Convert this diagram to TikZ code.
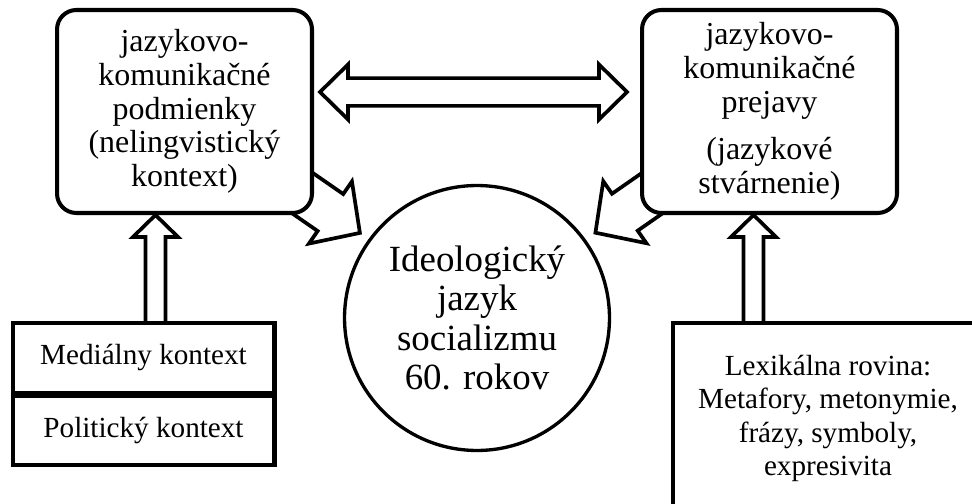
\documentclass[tikz,border=0pt]{standalone}
\usepackage{fontspec}
\setmainfont{Liberation Serif}
\usetikzlibrary{calc,backgrounds}

\tikzset{
  box/.style={draw, line width=2.3pt, fill=white, rounded corners=11pt,
    align=center, inner sep=0pt, minimum width=5.1cm, minimum height=4.06cm,
    font=\fontsize{18.2}{19.2}\selectfont},
  ctxbox/.style={draw, line width=2.3pt, fill=white, align=center,
    inner sep=0pt, font=\fontsize{16.6}{18.9}\selectfont},
  ideo/.style={draw, circle, line width=1.9pt, fill=white, align=center,
    inner sep=0pt, minimum size=5.3cm, font=\fontsize{21}{22.3}\selectfont},
  fat/.style n args={3}{draw, line width=2.1pt, fill=white, to path={
    let \p1=($(\tikztotarget)-(\tikztostart)$), \n1={atan2(\y1,\x1)},
        \n2={veclen(\x1,\y1)-#3}, \n3={veclen(\x1,\y1)} in
    ($(\tikztostart)+(\n1+90:#1)$)
    -- ($(\tikztostart)+(\n1:\n2)+(\n1+90:#1)$)
    -- ($(\tikztostart)+(\n1:\n2)+(\n1+90:#2)$)
    -- ($(\tikztostart)+(\n1:\n3)$)
    -- ($(\tikztostart)+(\n1:\n2)+(\n1-90:#2)$)
    -- ($(\tikztostart)+(\n1:\n2)+(\n1-90:#1)$)
    -- ($(\tikztostart)+(\n1-90:#1)$) -- cycle}},
  fatboth/.style n args={3}{draw, line width=2.1pt, fill=white, to path={
    let \p1=($(\tikztotarget)-(\tikztostart)$), \n1={atan2(\y1,\x1)},
        \n2={veclen(\x1,\y1)-#3}, \n3={veclen(\x1,\y1)} in
    ($(\tikztostart)+(\n1:#3)+(\n1+90:#1)$)
    -- ($(\tikztostart)+(\n1:\n2)+(\n1+90:#1)$)
    -- ($(\tikztostart)+(\n1:\n2)+(\n1+90:#2)$)
    -- ($(\tikztostart)+(\n1:\n3)$)
    -- ($(\tikztostart)+(\n1:\n2)+(\n1-90:#2)$)
    -- ($(\tikztostart)+(\n1:\n2)+(\n1-90:#1)$)
    -- ($(\tikztostart)+(\n1:#3)+(\n1-90:#1)$)
    -- ($(\tikztostart)+(\n1:#3)+(\n1-90:#2)$)
    -- (\tikztostart)
    -- ($(\tikztostart)+(\n1:#3)+(\n1+90:#2)$) -- cycle}},
}

\begin{document}
\begin{tikzpicture}[x=0.02cm, y=-0.02cm]
  \useasboundingbox (0,0) rectangle (972,503);
  \clip (0,0) rectangle (972,503);

  \node[box] (cond) at (184.5,111.5)
    {jazykovo-\\komunikačné\\podmienky\\(nelingvistický\\kontext)};
  \node[box] (expr) at (769.5,111.5)
    {jazykovo-\\komunikačné\\prejavy\\[8pt](jazykové\\stvárnenie)};
  \node[ideo] (lang) at (477,318)
    {Ideologický\\jazyk\\socializmu\\60. rokov};

  \node[ctxbox, minimum width=5.24cm, minimum height=1.4cm] (media)
    at (143.5,358) {Mediálny kontext};
  \node[ctxbox, minimum width=5.24cm, minimum height=1.38cm] (polit)
    at (143.5,430.5) {Politický kontext};
  \node[ctxbox, minimum width=6.2cm, minimum height=3.82cm] (lex)
    at (828,418.5)
    {Lexikálna rovina:\\Metafory, metonymie,\\frázy, symboly,\\expresivita};

  \coordinate (dl) at (320,92);
  \coordinate (dr) at (627,92);
  \coordinate (ltip) at (360,233);
  \coordinate (rtip) at (595,233);
  \coordinate (lup) at (155.5,215);
  \coordinate (rup) at (753.5,215);

  \begin{scope}[on background layer]
    \draw[fatboth={7.9pt}{15.6pt}{15.9pt}] (dl) to (dr);
    \draw[fat={12.8pt}{21.5pt}{20.4pt}] (cond.center) to (ltip);
    \draw[fat={12.8pt}{21.5pt}{20.4pt}] (expr.center) to (rtip);
    \draw[fat={5.7pt}{12.8pt}{12.5pt}] (lup |- media.center) to (lup);
    \draw[fat={5.7pt}{12.8pt}{12.5pt}] (rup |- lex.center) to (rup);
  \end{scope}
\end{tikzpicture}
\end{document}
